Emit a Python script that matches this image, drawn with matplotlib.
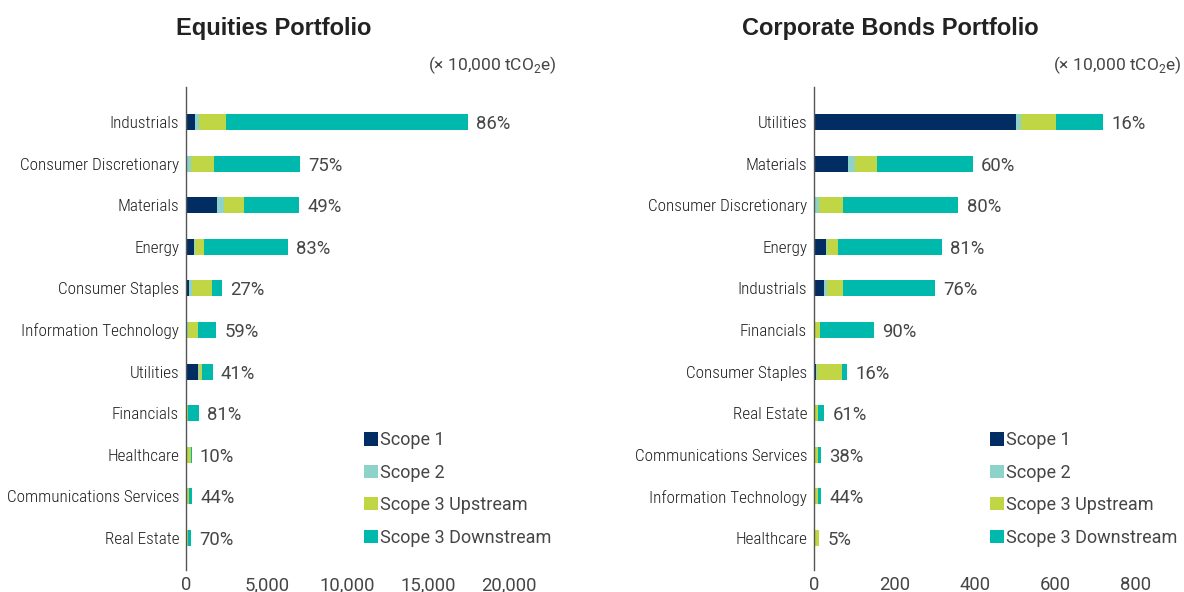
import matplotlib
matplotlib.use("Agg")
import matplotlib.pyplot as plt
from matplotlib import font_manager
from matplotlib.patches import Patch

# ---- data (x 10,000 tCO2e) ----
eq_sectors = ["Industrials", "Consumer Discretionary", "Materials", "Energy",
              "Consumer Staples", "Information Technology", "Utilities",
              "Financials", "Healthcare", "Communications Services", "Real Estate"]
eq_scope1 = [560, 60, 1920, 500, 190, 60, 740, 10, 5, 20, 10]
eq_scope2 = [250, 250, 410, 30, 170, 40, 40, 20, 5, 20, 20]
eq_scope3_up = [1670, 1420, 1260, 560, 1260, 660, 190, 120, 300, 170, 70]
eq_scope3_down = [14990, 5320, 3400, 5200, 600, 1100, 680, 650, 35, 165, 235]
eq_ticks = [0, 5000, 10000, 15000, 20000]
eq_ticklabels = ["0", "5,000", "10,000", "15,000", "20,000"]

cb_sectors = ["Utilities", "Materials", "Consumer Discretionary", "Energy",
              "Industrials", "Financials", "Consumer Staples", "Real Estate",
              "Communications Services", "Information Technology", "Healthcare"]
cb_scope1 = [502, 84, 1, 30, 25, 1, 5, 1, 0.5, 0.5, 0.2]
cb_scope2 = [12, 17, 12, 2, 8, 1, 2, 1, 0.5, 0.5, 0.2]
cb_scope3_up = [87, 55, 60, 27, 40, 13, 62, 8, 9.9, 9, 12]
cb_scope3_down = [117, 238, 286, 258, 227, 134, 13, 15.5, 6.6, 8, 0.65]
cb_ticks = [0, 200, 400, 600, 800]
cb_ticklabels = ["0", "200", "400", "600", "800"]

scope_names = ["Scope 1", "Scope 2", "Scope 3 Upstream", "Scope 3 Downstream"]
scope_colors = ["#022d63", "#8dd3c9", "#c0d644", "#00b9ad"]

# ---- fonts ----
available = {f.name for f in font_manager.fontManager.ttflist}
narrow = None
for cand in ["Roboto Condensed", "Liberation Sans Narrow", "DejaVu Sans Condensed"]:
    if cand in available:
        narrow = cand
        break
if narrow is None:
    narrow = "Liberation Sans"
body_family = ["Roboto", "DejaVu Sans"] if "Roboto" in available else ["Liberation Sans", "DejaVu Sans"]
plt.rcParams["font.family"] = ["Liberation Sans", "DejaVu Sans"]

TEXT_GREY = "#464646"

W, H = 1184, 592
fig = plt.figure(figsize=(W / 100, H / 100), dpi=100)


def px_axes(left, top, right, bottom):
    return fig.add_axes([left / W, 1 - bottom / H, (right - left) / W, (bottom - top) / H])


def draw_panel(ax, sectors, series, ticks, ticklabels, xmax):
    n = len(sectors)
    ypos = list(range(n))
    left = [0.0] * n
    for vals, color, name in zip(series, scope_colors, scope_names):
        ax.barh(ypos, vals, left=left, height=0.385, color=color, label=name,
                edgecolor="none")
        left = [a + b for a, b in zip(left, vals)]
    for i, tot in enumerate(left):
        share = series[3][i] / tot * 100
        ax.annotate(f"{share:.0f}%", (tot, i), xytext=(6, 0),
                    textcoords="offset points", va="center_baseline", ha="left",
                    fontsize=13.3, color=TEXT_GREY, family=body_family)
    ax.set_ylim(n - 1 + 0.77, -0.84)
    ax.set_xlim(0, xmax)
    ax.set_yticks(ypos)
    ax.set_yticklabels(sectors, family=[narrow, "DejaVu Sans"], fontsize=12.3,
                       color="#1e1e1e", fontweight="light")
    ax.set_xticks(ticks)
    ax.set_xticklabels(ticklabels, fontsize=13.3, color=TEXT_GREY,
                       family=body_family)
    ax.tick_params(axis="y", length=0, pad=5)
    ax.tick_params(axis="x", length=0, pad=4.5)
    for s in ["top", "right", "bottom"]:
        ax.spines[s].set_visible(False)
    ax.spines["left"].set_color("#555555")
    ax.spines["left"].set_linewidth(1.0)


ax1 = px_axes(186, 87, 509, 570)
draw_panel(ax1, eq_sectors, [eq_scope1, eq_scope2, eq_scope3_up, eq_scope3_down],
           eq_ticks, eq_ticklabels, 20000)

ax2 = px_axes(814, 87, 1136, 570)
draw_panel(ax2, cb_sectors, [cb_scope1, cb_scope2, cb_scope3_up, cb_scope3_down],
           cb_ticks, cb_ticklabels, 800)

fig.text(274 / W, 1 - 28 / H, "Equities Portfolio", ha="center", va="center",
         fontsize=17, fontweight="bold", color="#222222")
fig.text(890 / W, 1 - 28 / H, "Corporate Bonds Portfolio", ha="center", va="center",
         fontsize=17, fontweight="bold", color="#222222")
unit = "(× 10,000 tCO$_{\\mathregular{2}}$e)"
for xr in (557, 1182):
    fig.text(xr / W, 1 - 65 / H, unit, ha="right", va="center", fontsize=12.5,
             color=TEXT_GREY, family=body_family)

handles = [Patch(facecolor=c, edgecolor="none", label=n)
           for c, n in zip(scope_colors, scope_names)]
for x0 in (357, 983):
    fig.legend(handles=handles, loc="upper left",
               bbox_to_anchor=(x0 / W, 1 - 424 / H), frameon=False,
               prop={"family": body_family, "size": 13.0},
               handlelength=0.75, handleheight=0.75,
               handletextpad=0.15, labelspacing=0.8, borderaxespad=0,
               labelcolor=TEXT_GREY)

fig.savefig("out.png", dpi=100)
